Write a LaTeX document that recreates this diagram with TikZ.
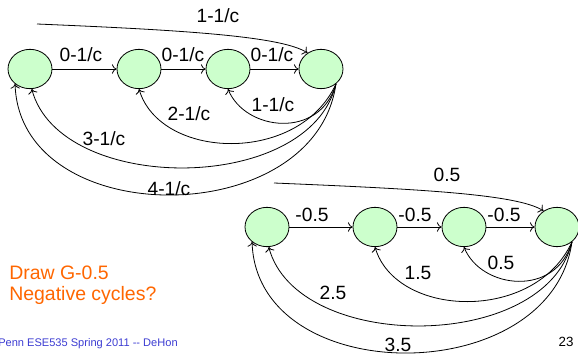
\documentclass[tikz,border=0pt]{standalone}
\usepackage{fontspec}
\setmainfont{Liberation Sans}
\usetikzlibrary{shapes.geometric,arrows.meta}

\definecolor{vgreen}{RGB}{204,255,204}
\definecolor{noteorange}{RGB}{255,102,0}
\definecolor{footblue}{RGB}{60,60,210}

\tikzset{
	vtx/.style={ellipse,draw,line width=0.6pt,fill=vgreen,minimum width=33pt,minimum height=29.5pt,inner sep=0pt},
	wlabel/.style={inner sep=0pt,font=\fontsize{14.4}{16}\selectfont},
	wedge/.style={line width=0.6pt,-{To[length=3.5pt,width=7pt]}},
}

\begin{document}
\begin{tikzpicture}[x=0.75pt,y=0.75pt,yscale=-1,xscale=1]
		\useasboundingbox (0,0) rectangle (578,356);
		
		%Shape: Ellipses, upper chain
		\node [vtx] (t1) at (30,69) {};
		\node [vtx] (t2) at (139,69) {};
		\node [vtx] (t3) at (228,69) {};
		\node [vtx] (t4) at (321,69) {};
		%Straight Lines
		\draw [wedge] (t1) -- (t2);
		\draw [wedge] (t2) -- (t3);
		\draw [wedge] (t3) -- (t4);
		%Curve Lines
		\coordinate (ts) at (37,24);
		\draw [wedge] (ts) .. controls +(143,6) and +(-26,-17) .. (t4.130);
		\draw [wedge] (t4.-45) .. controls +(-16,56) and +(17,42) .. (t3.-90);
		\draw [wedge] (t4.-45) .. controls +(-37,81) and +(21,71) .. (t2.-90);
		\draw [wedge] (t4.-45) .. controls +(-26,111) and +(28,106) .. (t1.-85);
		\draw [wedge] (t4.-45) .. controls +(-21,148) and +(5,148) .. (t1.-135);
		
		% Text Node
		\node [wlabel] (lt12) at (81,55) {0-1/c};
		\node [wlabel] (lt23) at (183,55) {0-1/c};
		\node [wlabel] (lt34) at (272,55) {0-1/c};
		\node [wlabel] (lt14) at (218,16) {1-1/c};
		\node [wlabel] (lt43) at (273,105) {1-1/c};
		\node [wlabel] (lt42) at (189,114) {2-1/c};
		\node [wlabel] (lt41) at (104,139) {3-1/c};
		\node [wlabel] (lt40) at (169,189) {4-1/c};
		
		%Shape: Ellipses, lower chain
		\node [vtx] (b1) at (267,227) {};
		\node [vtx] (b2) at (375,227) {};
		\node [vtx] (b3) at (464,227) {};
		\node [vtx] (b4) at (557,227) {};
		%Straight Lines
		\draw [wedge] (b1) -- (b2);
		\draw [wedge] (b2) -- (b3);
		\draw [wedge] (b3) -- (b4);
		%Curve Lines
		\coordinate (bs) at (274,183);
		\draw [wedge] (bs) .. controls +(143,6) and +(-26,-17) .. (b4.130);
		\draw [wedge] (b4.-45) .. controls +(-16,56) and +(17,42) .. (b3.-90);
		\draw [wedge] (b4.-45) .. controls +(-37,81) and +(21,71) .. (b2.-90);
		\draw [wedge] (b4.-45) .. controls +(-26,111) and +(28,106) .. (b1.-85);
		\draw [wedge] (b4.-45) .. controls +(-21,148) and +(5,148) .. (b1.-135);
		
		% Text Node
		\node [wlabel] (lb12) at (312,215) {-0.5};
		\node [wlabel] (lb23) at (415,215) {-0.5};
		\node [wlabel] (lb34) at (504,215) {-0.5};
		\node [wlabel] (lb14) at (447,175) {0.5};
		\node [wlabel] (lb43) at (501,263) {0.5};
		\node [wlabel] (lb42) at (418,273) {1.5};
		\node [wlabel] (lb41) at (333,293) {2.5};
		\node [wlabel] (lb40) at (398,345) {3.5};
		
		% Text Node
		\node [anchor=north west,inner sep=0pt,align=left,text=noteorange,font=\fontsize{14.6}{15.75}\selectfont] (note) at (9,266) {Draw G-0.5\\Negative cycles?};
		\node [anchor=west,inner sep=0pt,text=footblue,font=\fontsize{8.3}{10}\selectfont] (foot) at (-2,344) {Penn ESE535 Spring 2011 {-}{-} DeHon};
		\node [inner sep=0pt,font=\fontsize{10}{12}\selectfont] (pageno) at (566,342) {23};
		
\end{tikzpicture}
\end{document}
